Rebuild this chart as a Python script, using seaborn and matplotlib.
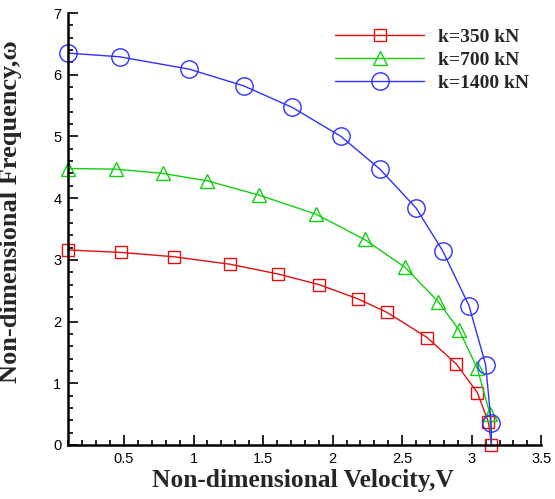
import numpy as np
import pandas as pd
import matplotlib
matplotlib.use("Agg")
import matplotlib.pyplot as plt
from matplotlib.ticker import MultipleLocator
import seaborn as sns

# ---- data ----
v_350 = [0.10, 0.48, 0.86, 1.26, 1.61, 1.90, 2.18, 2.39, 2.68, 2.89, 3.04, 3.12, 3.1416]
w_350 = [3.16, 3.12, 3.05, 2.93, 2.77, 2.60, 2.37, 2.15, 1.74, 1.31, 0.85, 0.37, 0.0]

v_700 = [0.10, 0.44, 0.78, 1.10, 1.47, 1.88, 2.23, 2.52, 2.76, 2.91, 3.04, 3.13, 3.1416]
w_700 = [4.48, 4.47, 4.40, 4.28, 4.05, 3.74, 3.33, 2.88, 2.32, 1.86, 1.24, 0.51, 0.0]

v_1400 = [0.10, 0.47, 0.97, 1.36, 1.71, 2.06, 2.34, 2.60, 2.79, 2.98, 3.10, 3.14, 3.1416]
w_1400 = [6.35, 6.29, 6.09, 5.82, 5.47, 5.00, 4.47, 3.84, 3.15, 2.26, 1.30, 0.35, 0.0]

labels = ["k=350 kN", "k=700 kN", "k=1400 kN"]
x_ticks = [0.5, 1.0, 1.5, 2.0, 2.5, 3.0, 3.5]
x_ticklabels = ["0.5", "1", "1.5", "2", "2.5", "3", "3.5"]
y_ticks = [0, 1, 2, 3, 4, 5, 6, 7]

sns.set_style("ticks")
plt.rcParams["font.family"] = ["Liberation Sans", "DejaVu Sans"]

fig = plt.figure(figsize=(5.55, 4.99), dpi=100)
ax = fig.add_axes([68.3 / 555, 1 - 445 / 499, (541.3 - 68.3) / 555, (445 - 13) / 499])

serif_bold = dict(family=["Liberation Serif", "DejaVu Serif"], weight="bold")

series = [
    (v_350, w_350, labels[0], "#e01010", "s", 8.0, False),
    (v_700, w_700, labels[1], "#10d010", "^", 10.0, True),
    (v_1400, w_1400, labels[2], "#3030ff", "o", 12.5, True),
]
for v, w, lab, col, mk, ms, skip_last in series:
    df = pd.DataFrame({"V": v, "w": w})
    kw = {}
    if skip_last:
        kw["markevery"] = list(range(len(v) - 1))
    sns.lineplot(data=df, x="V", y="w", ax=ax, sort=False, estimator=None,
                 color=col, linewidth=1.0, marker=mk, markersize=ms,
                 markerfacecolor="none", markeredgecolor=col, markeredgewidth=1.0,
                 label=lab, clip_on=False, **kw)

ax.set_xlim(0.1, 3.5)
ax.set_ylim(0, 7)
ax.xaxis.set_minor_locator(MultipleLocator(0.1))
ax.yaxis.set_minor_locator(MultipleLocator(0.2))
ax.set_xticks(x_ticks)
ax.set_xticklabels(x_ticklabels)
ax.set_yticks(y_ticks)
ax.set_yticklabels([str(i) for i in y_ticks])

ax.tick_params(which="both", direction="in", width=1.2, colors="black", labelsize=10.5)
ax.tick_params(which="major", length=7, pad=5)
ax.tick_params(which="minor", length=3.5)
sns.despine(ax=ax)
for s in ["left", "bottom"]:
    ax.spines[s].set_linewidth(1.8)
    ax.spines[s].set_color("black")

ax.set_xlabel("Non-dimensional Velocity,V", fontsize=18.4, **serif_bold)
ax.xaxis.set_label_coords(0.497, -0.055)
ax.set_ylabel("Non-dimensional Frequency,\u03c9", fontsize=19, **serif_bold)
ax.yaxis.set_label_coords(-0.097, 0.54)

leg = ax.legend(loc="upper left", bbox_to_anchor=(249 / 473, 1.005), frameon=False,
                handlelength=4.6, handletextpad=0.7, labelspacing=0.28,
                prop=dict(family=["Liberation Serif", "DejaVu Serif"], weight="bold", size=14))

fig.savefig("out.png", dpi=100)
